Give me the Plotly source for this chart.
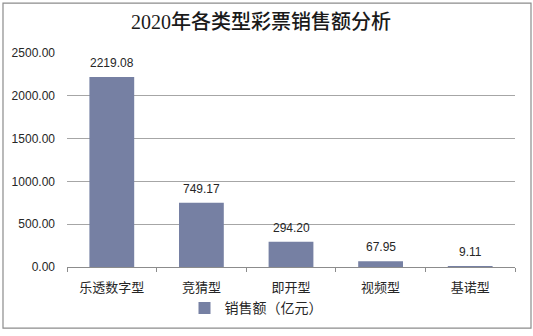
import plotly.graph_objects as go

# Lottery sales by type, 2020 (unit: 100 million yuan)
categories = ["乐透数字型", "竞猜型", "即开型", "视频型", "基诺型"]
sales = [2219.08, 749.17, 294.20, 67.95, 9.11]
series_name = "销售额（亿元）"
title_text = "2020年各类型彩票销售额分析"
y_ticks = [0, 500, 1000, 1500, 2000, 2500]

bar_color = "#7680a3"
text_color = "#262626"

fig = go.Figure()
fig.add_trace(go.Bar(
    x=categories,
    y=sales,
    name=series_name,
    marker=dict(color=bar_color, line=dict(width=0)),
    showlegend=True,
))

# value labels above each bar
for cat, val in zip(categories, sales):
    fig.add_annotation(
        x=cat, y=val, text=f"{val:.2f}",
        showarrow=False, yanchor="bottom", yshift=5,
        font=dict(family="Arial, Liberation Sans", size=12, color=text_color),
    )

# outer frame around the whole chart
L, R, T, B = 67, 18, 53, 66
W, H = 533, 336
pw, ph = W - L - R, H - T - B
fig.add_shape(
    type="rect", xref="paper", yref="paper",
    x0=(3 - L) / pw, x1=(531 - L) / pw,
    y0=(H - B - 332) / ph, y1=(H - B - 2.5) / ph,
    line=dict(color="#8c8c8c", width=1.2), fillcolor="rgba(0,0,0,0)",
    layer="below",
)

fig.update_layout(
    width=W, height=H,
    margin=dict(l=L, r=R, t=T, b=B, pad=0),
    paper_bgcolor="white", plot_bgcolor="white",
    bargap=0.5,
    title=dict(
        text=title_text, x=(261 - L) / pw, xref="paper", xanchor="center",
        y=1 - 22 / H, yanchor="middle",
        font=dict(family="Liberation Serif, Noto Sans CJK SC", size=20,
                  color="#1a1a1a", weight=500),
    ),
    font=dict(family="Arial, Liberation Sans, Noto Sans CJK SC", size=12, color=text_color),
    legend=dict(
        orientation="h", x=(256 - L) / pw, xanchor="center",
        y=(H - B - 312) / ph, yanchor="middle",
        font=dict(family="Noto Sans CJK SC", size=14, color=text_color),
        itemwidth=30, bgcolor="rgba(0,0,0,0)",
    ),
    xaxis=dict(
        type="category",
        showline=True, linecolor="#8c8c8c", linewidth=1,
        ticks="outside", tickson="boundaries", ticklen=4, tickcolor="#8c8c8c",
        showgrid=False, ticklabelstandoff=8,
        tickfont=dict(family="Noto Sans CJK SC", size=13, color=text_color),
    ),
    yaxis=dict(
        range=[0, 2500], tickvals=y_ticks,
        ticktext=[f"{v:.2f}" for v in y_ticks],
        showgrid=True, gridcolor="#a6a6a6", gridwidth=1,
        showline=False, zeroline=False, ticks="",
        ticklabelstandoff=11,
        tickfont=dict(family="Arial, Liberation Sans", size=12, color=text_color),
    ),
)

fig.write_html("out.html")
